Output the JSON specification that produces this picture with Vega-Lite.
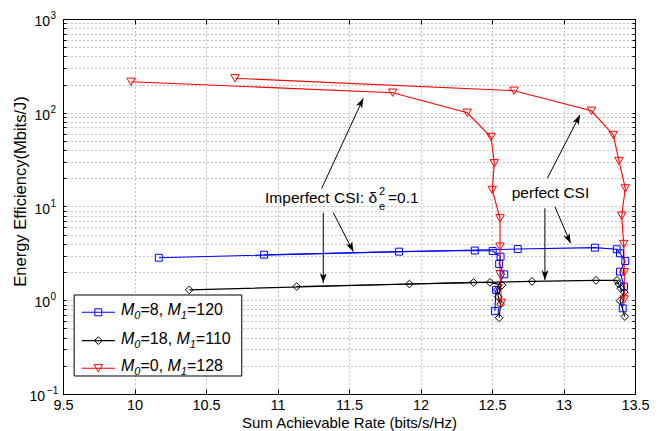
{
  "$schema": "https://vega.github.io/schema/vega-lite/v6.json",
  "width": 572,
  "height": 375,
  "autosize": {"type": "none"},
  "padding": {"left": 63, "top": 19, "right": 24, "bottom": 37},
  "background": "white",
  "config": {
    "view": {"stroke": "black", "strokeWidth": 1},
    "font": "Liberation Sans",
    "axis": {
      "domainColor": "black", "tickColor": "black", "labelColor": "black", "titleColor": "black",
      "labelFont": "Liberation Sans", "titleFont": "Liberation Sans", "titleFontWeight": "normal",
      "gridColor": "#8a8a8a", "gridDash": [1, 3], "gridOpacity": 1, "gridWidth": 1
    }
  },
  "datasets": {
    "curves": [
      {"s": "b", "c": "imp", "i": 1, "x": 10.17, "y": 2.84},
      {"s": "b", "c": "imp", "i": 2, "x": 11.85, "y": 3.30},
      {"s": "b", "c": "imp", "i": 3, "x": 12.38, "y": 3.39},
      {"s": "b", "c": "imp", "i": 4, "x": 12.505, "y": 3.35},
      {"s": "b", "c": "imp", "i": 5, "x": 12.56, "y": 2.92},
      {"s": "b", "c": "imp", "i": 6, "x": 12.55, "y": 2.44},
      {"s": "b", "c": "imp", "i": 7, "x": 12.586, "y": 1.89},
      {"s": "b", "c": "imp", "i": 8, "x": 12.528, "y": 1.29},
      {"s": "b", "c": "imp", "i": 9, "x": 12.52, "y": 0.77},
      {"s": "b", "c": "perf", "i": 1, "x": 10.906, "y": 3.06},
      {"s": "b", "c": "perf", "i": 2, "x": 12.68, "y": 3.52},
      {"s": "b", "c": "perf", "i": 3, "x": 13.22, "y": 3.64},
      {"s": "b", "c": "perf", "i": 4, "x": 13.372, "y": 3.50},
      {"s": "b", "c": "perf", "i": 5, "x": 13.395, "y": 3.17},
      {"s": "b", "c": "perf", "i": 6, "x": 13.432, "y": 2.62},
      {"s": "b", "c": "perf", "i": 7, "x": 13.395, "y": 2.02},
      {"s": "b", "c": "perf", "i": 8, "x": 13.423, "y": 1.40},
      {"s": "b", "c": "perf", "i": 9, "x": 13.414, "y": 0.82},
      {"s": "k", "c": "imp", "i": 1, "x": 10.383, "y": 1.29},
      {"s": "k", "c": "imp", "i": 2, "x": 11.922, "y": 1.49},
      {"s": "k", "c": "imp", "i": 3, "x": 12.371, "y": 1.55},
      {"s": "k", "c": "imp", "i": 4, "x": 12.486, "y": 1.55},
      {"s": "k", "c": "imp", "i": 5, "x": 12.57, "y": 1.45},
      {"s": "k", "c": "imp", "i": 6, "x": 12.537, "y": 1.29},
      {"s": "k", "c": "imp", "i": 7, "x": 12.544, "y": 1.09},
      {"s": "k", "c": "imp", "i": 8, "x": 12.56, "y": 0.91},
      {"s": "k", "c": "imp", "i": 9, "x": 12.55, "y": 0.65},
      {"s": "k", "c": "perf", "i": 1, "x": 11.134, "y": 1.40},
      {"s": "k", "c": "perf", "i": 2, "x": 12.78, "y": 1.59},
      {"s": "k", "c": "perf", "i": 3, "x": 13.227, "y": 1.63},
      {"s": "k", "c": "perf", "i": 4, "x": 13.374, "y": 1.63},
      {"s": "k", "c": "perf", "i": 5, "x": 13.386, "y": 1.49},
      {"s": "k", "c": "perf", "i": 6, "x": 13.40, "y": 1.34},
      {"s": "k", "c": "perf", "i": 7, "x": 13.425, "y": 1.22},
      {"s": "k", "c": "perf", "i": 8, "x": 13.395, "y": 0.99},
      {"s": "k", "c": "perf", "i": 9, "x": 13.429, "y": 0.67},
      {"s": "r", "c": "imp", "i": 1, "x": 9.976, "y": 214},
      {"s": "r", "c": "imp", "i": 2, "x": 11.806, "y": 163.7},
      {"s": "r", "c": "imp", "i": 3, "x": 12.327, "y": 100},
      {"s": "r", "c": "imp", "i": 4, "x": 12.493, "y": 55.1},
      {"s": "r", "c": "imp", "i": 5, "x": 12.516, "y": 28.9},
      {"s": "r", "c": "imp", "i": 6, "x": 12.502, "y": 15.0},
      {"s": "r", "c": "imp", "i": 7, "x": 12.556, "y": 7.48},
      {"s": "r", "c": "imp", "i": 8, "x": 12.556, "y": 3.73},
      {"s": "r", "c": "imp", "i": 9, "x": 12.556, "y": 1.9},
      {"s": "r", "c": "imp", "i": 10, "x": 12.566, "y": 0.94},
      {"s": "r", "c": "perf", "i": 1, "x": 10.703, "y": 233},
      {"s": "r", "c": "perf", "i": 2, "x": 12.654, "y": 171.8},
      {"s": "r", "c": "perf", "i": 3, "x": 13.196, "y": 105},
      {"s": "r", "c": "perf", "i": 4, "x": 13.348, "y": 57.9},
      {"s": "r", "c": "perf", "i": 5, "x": 13.388, "y": 30.6},
      {"s": "r", "c": "perf", "i": 6, "x": 13.432, "y": 15.6},
      {"s": "r", "c": "perf", "i": 7, "x": 13.407, "y": 7.97},
      {"s": "r", "c": "perf", "i": 8, "x": 13.421, "y": 3.98},
      {"s": "r", "c": "perf", "i": 9, "x": 13.425, "y": 1.99},
      {"s": "r", "c": "perf", "i": 10, "x": 13.425, "y": 1.02}
    ],
    "arrows": [
      {"id": "A", "x1": 11.309, "y1": 15.6, "x2": 11.60, "y2": 142.6},
      {"id": "B", "x1": 11.39, "y1": 8.59, "x2": 11.53, "y2": 3.30},
      {"id": "C", "x1": 11.32, "y1": 8.59, "x2": 11.32, "y2": 1.53},
      {"id": "D", "x1": 12.887, "y1": 20.0, "x2": 13.115, "y2": 94.6},
      {"id": "E", "x1": 12.94, "y1": 9.95, "x2": 13.05, "y2": 4.05},
      {"id": "F", "x1": 12.87, "y1": 9.57, "x2": 12.87, "y2": 1.64}
    ],
    "ann": [
      {"k": "n", "x": 10.913, "y": 10.9, "t": "Imperfect CSI: δ"},
      {"k": "sup", "x": 11.71, "y": 10.9, "t": "2"},
      {"k": "sub", "x": 11.71, "y": 10.9, "t": "e"},
      {"k": "n", "x": 11.773, "y": 10.9, "t": "=0.1"},
      {"k": "n", "x": 12.638, "y": 12.24, "t": "perfect CSI"}
    ],
    "legbox": [{"x1": 9.578, "x2": 10.75, "y1": 1.138, "y2": 0.1556}],
    "legrows": [
      {"s": "b", "y": 0.744, "x1": 9.631, "x2": 9.864, "xm": 9.747},
      {"s": "k", "y": 0.371, "x1": 9.631, "x2": 9.864, "xm": 9.747},
      {"s": "r", "y": 0.188, "x1": 9.631, "x2": 9.864, "xm": 9.747}
    ],
    "legtxt": [
      {"k": "it", "x": 9.906, "y": 0.744, "t": "M"},
      {"k": "sub", "x": 9.999, "y": 0.744, "t": "0"},
      {"k": "n", "x": 10.042, "y": 0.744, "t": "=8,"},
      {"k": "it", "x": 10.231, "y": 0.744, "t": "M"},
      {"k": "sub", "x": 10.324, "y": 0.744, "t": "1"},
      {"k": "n", "x": 10.367, "y": 0.744, "t": "=120"},
      {"k": "it", "x": 9.906, "y": 0.371, "t": "M"},
      {"k": "sub", "x": 9.999, "y": 0.371, "t": "0"},
      {"k": "n", "x": 10.042, "y": 0.371, "t": "=18,"},
      {"k": "it", "x": 10.293, "y": 0.371, "t": "M"},
      {"k": "sub", "x": 10.386, "y": 0.371, "t": "1"},
      {"k": "n", "x": 10.429, "y": 0.371, "t": "=110"},
      {"k": "it", "x": 9.906, "y": 0.188, "t": "M"},
      {"k": "sub", "x": 9.999, "y": 0.188, "t": "0"},
      {"k": "n", "x": 10.042, "y": 0.188, "t": "=0,"},
      {"k": "it", "x": 10.231, "y": 0.188, "t": "M"},
      {"k": "sub", "x": 10.324, "y": 0.188, "t": "1"},
      {"k": "n", "x": 10.367, "y": 0.188, "t": "=128"}
    ],
    "ylab": [
      {"v": 1000, "e": "3"},
      {"v": 100, "e": "2"},
      {"v": 10, "e": "1"},
      {"v": 1, "e": "0"},
      {"v": 0.1, "e": "−1"}
    ]
  },
  "resolve": {"axis": {"x": "independent", "y": "independent"}},
  "layer": [
    {
      "data": {"name": "curves"},
      "mark": {"type": "line", "strokeWidth": 1.1},
      "encoding": {
        "x": {"field": "x", "type": "quantitative",
          "scale": {"domain": [9.5, 13.5], "nice": false, "zero": false},
          "axis": {"orient": "bottom", "values": [9.5, 10, 10.5, 11, 11.5, 12, 12.5, 13, 13.5], "format": "~g",
            "grid": true, "tickSize": -5, "labelPadding": 9, "labelFontSize": 14.5, "labelFlush": false, "labelOverlap": false,
            "title": "Sum Achievable Rate (bits/s/Hz)", "titleFontSize": 15, "titleY": 28, "titleBaseline": "middle"}},
        "y": {"field": "y", "type": "quantitative",
          "scale": {"type": "log", "domain": [0.1, 1000], "nice": false},
          "axis": {"orient": "left", "values": [0.1,0.2,0.3,0.4,0.5,0.6,0.7,0.8,0.9,1,2,3,4,5,6,7,8,9,10,20,30,40,50,60,70,80,90,100,200,300,400,500,600,700,800,900,1000],
            "grid": true, "labels": false, "tickSize": -3,
            "title": "Energy Efficiency(Mbits/J)", "titleFontSize": 16.5, "titleX": -43, "titleY": 172, "titleBaseline": "middle", "titleAlign": "center"}},
        "color": {"field": "s", "type": "nominal", "scale": {"domain": ["b", "k", "r"], "range": ["#0000ff", "#000000", "#ff0000"]}, "legend": null},
        "detail": {"field": "c"},
        "order": {"field": "i", "type": "quantitative"}
      }
    },
    {
      "data": {"name": "curves"},
      "mark": {"type": "point", "filled": false, "strokeWidth": 1, "opacity": 1},
      "encoding": {
        "x": {"field": "x", "type": "quantitative",
          "axis": {"orient": "top", "values": [9.5, 10, 10.5, 11, 11.5, 12, 12.5, 13, 13.5], "labels": false, "grid": false, "tickSize": -5, "title": null}},
        "y": {"field": "y", "type": "quantitative", "scale": {"type": "log"},
          "axis": {"orient": "right", "values": [0.1,0.2,0.3,0.4,0.5,0.6,0.7,0.8,0.9,1,2,3,4,5,6,7,8,9,10,20,30,40,50,60,70,80,90,100,200,300,400,500,600,700,800,900,1000],
            "labels": false, "grid": false, "tickSize": -3, "title": null}},
        "color": {"field": "s", "type": "nominal", "scale": {"domain": ["b", "k", "r"], "range": ["#0000ff", "#000000", "#ff0000"]}, "legend": null},
        "shape": {"field": "s", "type": "nominal", "scale": {"domain": ["b", "k", "r"], "range": ["square", "diamond", "triangle-down"]}, "legend": null},
        "size": {"field": "s", "type": "nominal", "scale": {"domain": ["b", "k", "r"], "range": [48, 72, 75]}, "legend": null}
      }
    },
    {
      "data": {"name": "arrows"},
      "mark": {"type": "rule", "color": "black", "strokeWidth": 1},
      "encoding": {
        "x": {"field": "x1", "type": "quantitative", "axis": null},
        "y": {"field": "y1", "type": "quantitative", "axis": null},
        "x2": {"field": "x2"},
        "y2": {"field": "y2"}
      }
    },
    {
      "data": {"name": "arrows"},
      "transform": [{"filter": "datum.id === 'A' || datum.id === 'D'"}],
      "mark": {"type": "point", "shape": "M0,0L-0.35,1L0,0.75L0.35,1Z", "filled": true, "color": "black", "size": 380, "angle": 26, "opacity": 1},
      "encoding": {
        "x": {"field": "x2", "type": "quantitative", "axis": null},
        "y": {"field": "y2", "type": "quantitative", "axis": null}
      }
    },
    {
      "data": {"name": "arrows"},
      "transform": [{"filter": "datum.id === 'B' || datum.id === 'E'"}],
      "mark": {"type": "point", "shape": "M0,0L-0.35,1L0,0.75L0.35,1Z", "filled": true, "color": "black", "size": 380, "angle": 155, "opacity": 1},
      "encoding": {
        "x": {"field": "x2", "type": "quantitative", "axis": null},
        "y": {"field": "y2", "type": "quantitative", "axis": null}
      }
    },
    {
      "data": {"name": "arrows"},
      "transform": [{"filter": "datum.id === 'C' || datum.id === 'F'"}],
      "mark": {"type": "point", "shape": "M0,0L-0.35,1L0,0.75L0.35,1Z", "filled": true, "color": "black", "size": 380, "angle": 180, "opacity": 1},
      "encoding": {
        "x": {"field": "x2", "type": "quantitative", "axis": null},
        "y": {"field": "y2", "type": "quantitative", "axis": null}
      }
    },
    {
      "data": {"name": "ann"},
      "transform": [{"filter": "datum.k === 'n'"}],
      "mark": {"type": "text", "align": "left", "baseline": "alphabetic", "fontSize": 15.5, "color": "black"},
      "encoding": {
        "x": {"field": "x", "type": "quantitative", "axis": null},
        "y": {"field": "y", "type": "quantitative", "axis": null},
        "text": {"field": "t"}
      }
    },
    {
      "data": {"name": "ann"},
      "transform": [{"filter": "datum.k === 'sup'"}],
      "mark": {"type": "text", "align": "left", "baseline": "alphabetic", "fontSize": 11, "dy": -8, "color": "black"},
      "encoding": {
        "x": {"field": "x", "type": "quantitative", "axis": null},
        "y": {"field": "y", "type": "quantitative", "axis": null},
        "text": {"field": "t"}
      }
    },
    {
      "data": {"name": "ann"},
      "transform": [{"filter": "datum.k === 'sub'"}],
      "mark": {"type": "text", "align": "left", "baseline": "alphabetic", "fontSize": 11, "dy": 7, "color": "black"},
      "encoding": {
        "x": {"field": "x", "type": "quantitative", "axis": null},
        "y": {"field": "y", "type": "quantitative", "axis": null},
        "text": {"field": "t"}
      }
    },
    {
      "data": {"name": "legbox"},
      "mark": {"type": "rect", "fill": "white", "stroke": "black", "strokeWidth": 1},
      "encoding": {
        "x": {"field": "x1", "type": "quantitative", "axis": null},
        "x2": {"field": "x2"},
        "y": {"field": "y1", "type": "quantitative", "axis": null},
        "y2": {"field": "y2"}
      }
    },
    {
      "data": {"name": "legrows"},
      "mark": {"type": "rule", "strokeWidth": 1.1},
      "encoding": {
        "x": {"field": "x1", "type": "quantitative", "axis": null},
        "x2": {"field": "x2"},
        "y": {"field": "y", "type": "quantitative", "axis": null},
        "color": {"field": "s", "type": "nominal", "scale": {"domain": ["b", "k", "r"], "range": ["#0000ff", "#000000", "#ff0000"]}, "legend": null}
      }
    },
    {
      "data": {"name": "legrows"},
      "mark": {"type": "point", "filled": false, "strokeWidth": 1, "opacity": 1},
      "encoding": {
        "x": {"field": "xm", "type": "quantitative", "axis": null},
        "y": {"field": "y", "type": "quantitative", "axis": null},
        "color": {"field": "s", "type": "nominal", "scale": {"domain": ["b", "k", "r"], "range": ["#0000ff", "#000000", "#ff0000"]}, "legend": null},
        "shape": {"field": "s", "type": "nominal", "scale": {"domain": ["b", "k", "r"], "range": ["square", "diamond", "triangle-down"]}, "legend": null},
        "size": {"field": "s", "type": "nominal", "scale": {"domain": ["b", "k", "r"], "range": [48, 72, 75]}, "legend": null}
      }
    },
    {
      "data": {"name": "legtxt"},
      "transform": [{"filter": "datum.k === 'it'"}],
      "mark": {"type": "text", "align": "left", "baseline": "alphabetic", "fontSize": 16, "fontStyle": "italic", "dy": 3, "color": "black"},
      "encoding": {
        "x": {"field": "x", "type": "quantitative", "axis": null},
        "y": {"field": "y", "type": "quantitative", "axis": null},
        "text": {"field": "t"}
      }
    },
    {
      "data": {"name": "legtxt"},
      "transform": [{"filter": "datum.k === 'sub'"}],
      "mark": {"type": "text", "align": "left", "baseline": "alphabetic", "fontSize": 11, "fontStyle": "italic", "dy": 7, "color": "black"},
      "encoding": {
        "x": {"field": "x", "type": "quantitative", "axis": null},
        "y": {"field": "y", "type": "quantitative", "axis": null},
        "text": {"field": "t"}
      }
    },
    {
      "data": {"name": "legtxt"},
      "transform": [{"filter": "datum.k === 'n'"}],
      "mark": {"type": "text", "align": "left", "baseline": "alphabetic", "fontSize": 16, "dy": 3, "color": "black"},
      "encoding": {
        "x": {"field": "x", "type": "quantitative", "axis": null},
        "y": {"field": "y", "type": "quantitative", "axis": null},
        "text": {"field": "t"}
      }
    },
    {
      "data": {"name": "ylab"},
      "transform": [{"filter": "datum.v >= 1"}],
      "mark": {"type": "text", "align": "right", "baseline": "alphabetic", "fontSize": 14, "dx": -13, "dy": 7, "text": "10", "color": "black"},
      "encoding": {
        "x": {"datum": 9.5, "type": "quantitative", "axis": null},
        "y": {"field": "v", "type": "quantitative", "axis": null}
      }
    },
    {
      "data": {"name": "ylab"},
      "transform": [{"filter": "datum.v >= 1"}],
      "mark": {"type": "text", "align": "left", "baseline": "alphabetic", "fontSize": 10, "dx": -12.5, "dy": 0, "color": "black"},
      "encoding": {
        "x": {"datum": 9.5, "type": "quantitative", "axis": null},
        "y": {"field": "v", "type": "quantitative", "axis": null},
        "text": {"field": "e"}
      }
    },
    {
      "data": {"name": "ylab"},
      "transform": [{"filter": "datum.v < 1"}],
      "mark": {"type": "text", "align": "right", "baseline": "alphabetic", "fontSize": 14, "dx": -18, "dy": 7, "text": "10", "color": "black"},
      "encoding": {
        "x": {"datum": 9.5, "type": "quantitative", "axis": null},
        "y": {"field": "v", "type": "quantitative", "axis": null}
      }
    },
    {
      "data": {"name": "ylab"},
      "transform": [{"filter": "datum.v < 1"}],
      "mark": {"type": "text", "align": "left", "baseline": "alphabetic", "fontSize": 10, "dx": -16, "dy": 0, "color": "black"},
      "encoding": {
        "x": {"datum": 9.5, "type": "quantitative", "axis": null},
        "y": {"field": "v", "type": "quantitative", "axis": null},
        "text": {"field": "e"}
      }
    }
  ]
}
